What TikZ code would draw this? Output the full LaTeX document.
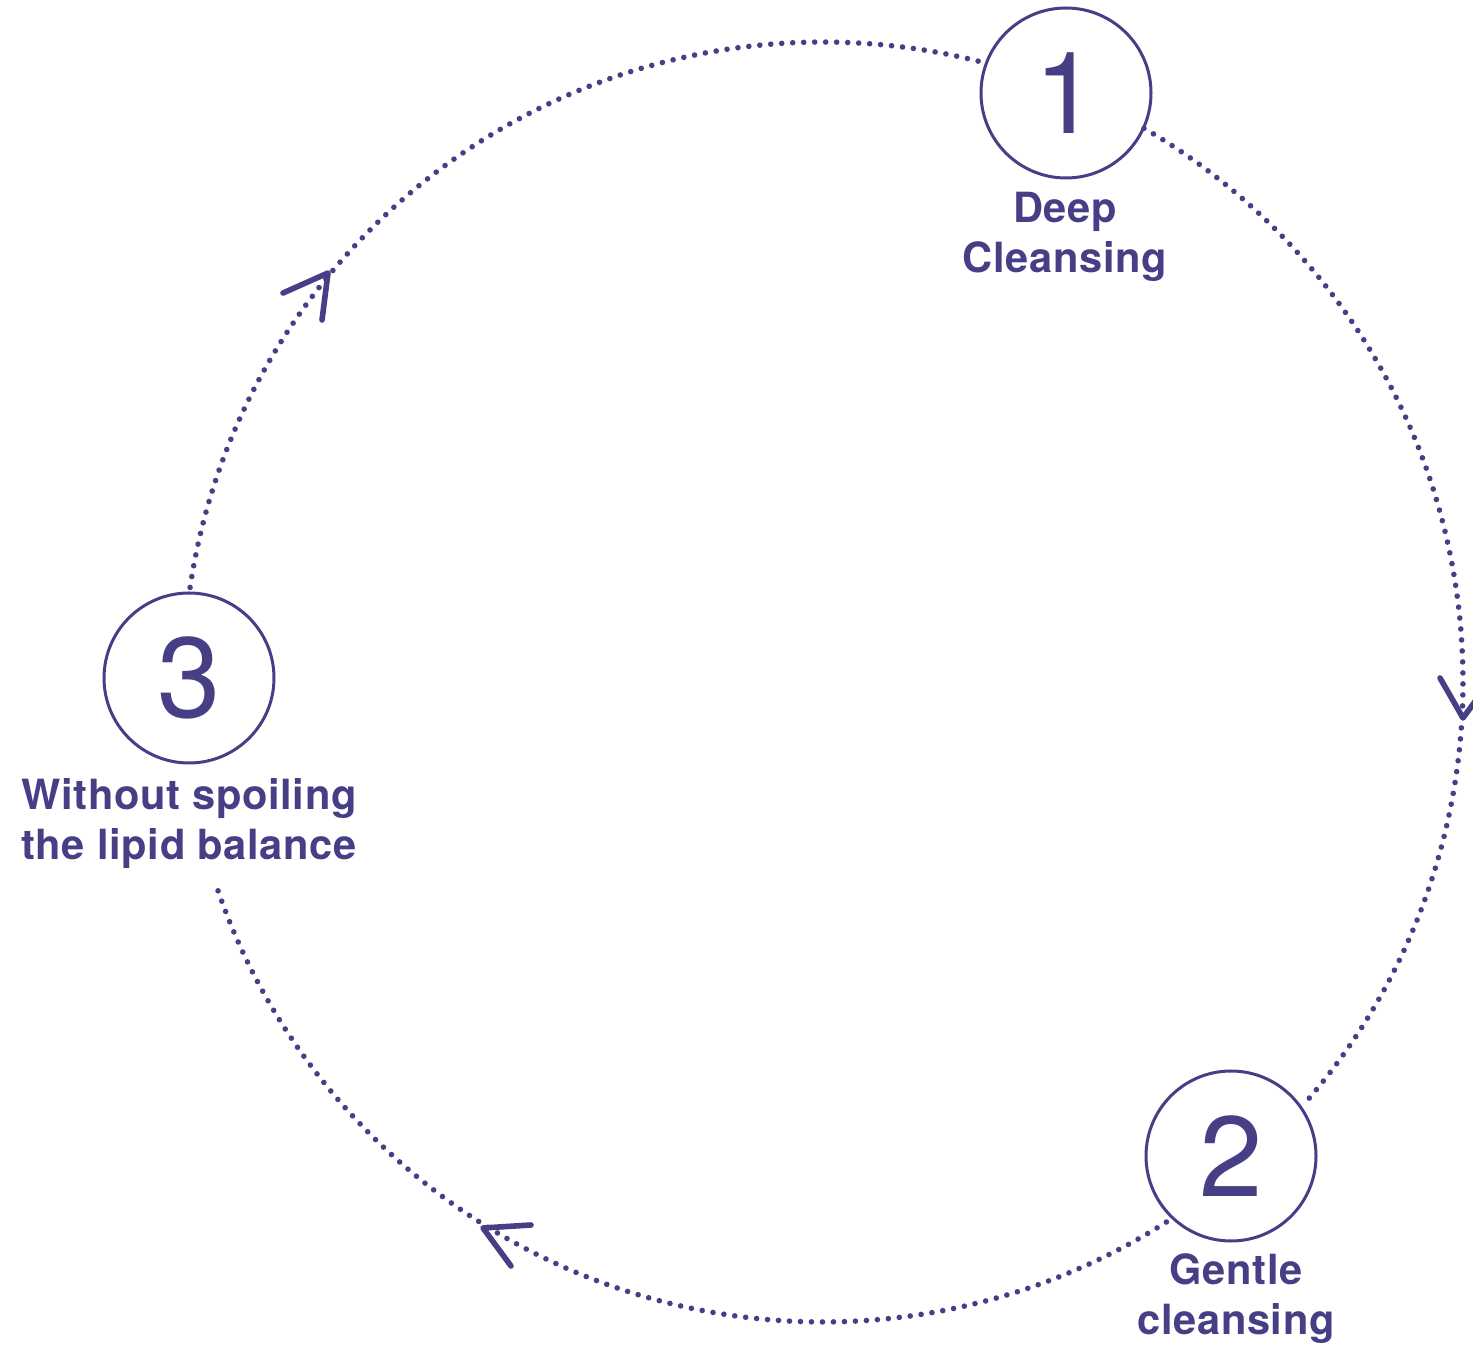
\documentclass[tikz,border=0pt]{standalone}
\usepackage{fontspec}
\setmainfont{TeX Gyre Heros}
\newfontfamily\labelfont[LetterSpace=1.6]{TeX Gyre Heros}
\definecolor{ink}{RGB}{71,63,134}
\begin{document}
\begin{tikzpicture}[x=0.5pt,y=0.5pt,
  dotline/.style={draw=ink,line width=2.8pt,line cap=round,dash pattern=on 0pt off 5.5pt},
  stepcircle/.style={circle,draw=ink,line width=1.5pt,minimum size=85pt,inner sep=0pt,
    text=ink,font={\fontsize{57}{60}\selectfont}},
  steplabel/.style={anchor=north,inner sep=0pt,align=center,text=ink,
    font={\labelfont\bfseries\fontsize{20.8}{25}\selectfont}},
  arrowv/.style={draw=ink,line width=2.8pt,line cap=round,line join=round}]
\useasboundingbox (0,0) rectangle (1473,1345);
\coordinate (ctr) at (823,663);
% step nodes
\node[stepcircle] (s1) at (1066,1252) {1};
\node[stepcircle] (s2) at (1231,189) {2};
\node[stepcircle] (s3) at (189,667) {3};
\node[steplabel] (l1) at (1065,1153) {Deep\\Cleansing};
\node[steplabel] (l2) at (1236,92) {Gentle\\cleansing};
\node[steplabel] (l3) at (189,567) {Without spoiling\\the lipid balance};
% dotted arcs
\draw[dotline] (ctr) ++(171.5:640) arc[start angle=171.5,end angle=75.6,radius=640];
\draw[dotline] (ctr) ++(59.9:640) arc[start angle=59.9,end angle=-40.95,radius=640];
\draw[dotline] (ctr) ++(-57.55:640) arc[start angle=-57.55,end angle=-161.6,radius=640];
% arrowheads
\coordinate (t1) at (328,1072);
\coordinate (t2) at (1463,627);
\coordinate (t3) at (483,117);
\draw[arrowv] (283,1052) -- (t1) -- (322,1025);
\draw[arrowv] (1440,667) -- (t2) -- (1490,664);
\draw[arrowv] (531,120) -- (t3) -- (511,79);
\end{tikzpicture}
\end{document}
